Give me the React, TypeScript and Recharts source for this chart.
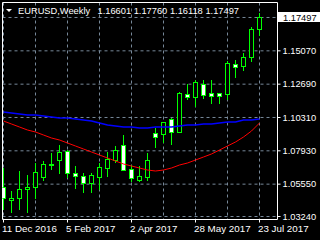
import React from 'react';
import {
  ComposedChart,
  Bar,
  Line,
  XAxis,
  YAxis,
  CartesianGrid,
  ReferenceLine,
  ReferenceArea,
} from 'recharts';

// ── MT4 "green on black" palette ──────────────────────────────────────────
const C = {
  bg: '#000000',
  bar: '#00FF00',
  bull: '#000000',
  bear: '#FFFFFF',
  grid: '#778899',
  frame: '#FFFFFF',
  text: '#FFFFFF',
  fast: '#FF0000',
  slow: '#0000FF',
};
const FONT = '"Liberation Sans", Arial, sans-serif';

// ── Weekly EURUSD, 11 Dec 2016 .. 23 Jul 2017 (one entry per week) ────────
const opens = [
  1.05346, 1.04418, 1.04561, 1.05204, 1.05346, 1.0606, 1.06953, 1.07274, 1.07917, 1.06346, 1.06132,
  1.05632, 1.0606, 1.06703, 1.07274, 1.08345, 1.06632, 1.05846, 1.0606, 1.09202, 1.09131, 1.10202,
  1.09273, 1.11987, 1.11772, 1.12701, 1.12058, 1.12058, 1.11987, 1.14129, 1.13986, 1.14628, 1.16601,
];
const highs = [
  1.06703, 1.05061, 1.06489, 1.06203, 1.0706, 1.07203, 1.07774, 1.08345, 1.07988, 1.06846, 1.06346,
  1.06346, 1.0706, 1.07845, 1.08274, 1.09059, 1.06917, 1.06846, 1.07774, 1.09559, 1.09987, 1.10273,
  1.12129, 1.12701, 1.12986, 1.12986, 1.12986, 1.12058, 1.14343, 1.14414, 1.14914, 1.1677, 1.1776,
];
const lows = [
  1.03704, 1.0349, 1.03704, 1.0349, 1.0449, 1.05775, 1.0656, 1.06275, 1.05989, 1.05204, 1.04918,
  1.04918, 1.05132, 1.0606, 1.0706, 1.0656, 1.05703, 1.05703, 1.05775, 1.08131, 1.08488, 1.08345,
  1.09273, 1.11558, 1.11058, 1.1163, 1.11273, 1.11273, 1.11558, 1.13129, 1.13629, 1.14271, 1.16118,
];
const closes = [
  1.04561, 1.04561, 1.05204, 1.05346, 1.06417, 1.06989, 1.07024, 1.07845, 1.06346, 1.06132, 1.05632,
  1.06203, 1.06774, 1.07346, 1.07988, 1.0656, 1.05989, 1.06132, 1.07274, 1.08916, 1.09987, 1.09273,
  1.12058, 1.11772, 1.12843, 1.11915, 1.11844, 1.11844, 1.142, 1.13914, 1.14628, 1.16628, 1.17497,
];

// moving averages drawn on the chart
const maFast = [
  1.10059, 1.09845, 1.0963, 1.09416, 1.09273, 1.09059, 1.08845, 1.08702, 1.08488, 1.08274, 1.0806,
  1.07845, 1.07631, 1.07417, 1.07203, 1.06989, 1.06846, 1.06703, 1.0656, 1.06489, 1.0656, 1.06703,
  1.06917, 1.0706, 1.07274, 1.07488, 1.07703, 1.07988, 1.08274, 1.08559, 1.08916, 1.09345, 1.09916,
];
const maSlow = [
  1.10701, 1.1063, 1.10559, 1.10487, 1.10487, 1.10416, 1.10344, 1.10273, 1.10273, 1.10202, 1.1013,
  1.10059, 1.09916, 1.09773, 1.09702, 1.0963, 1.0963, 1.09559, 1.09559, 1.0963, 1.0963, 1.0963,
  1.09702, 1.09773, 1.09773, 1.09845, 1.09845, 1.09916, 1.09987, 1.09987, 1.1013, 1.1013, 1.10202,
];

// ── Axis ticks ────────────────────────────────────────────────────────────
const gridWeeks = [0, 4, 8, 12, 16, 20, 24, 28, 32];
const dateLabels: Record<number, string> = {
  0: '11 Dec 2016',
  8: '5 Feb 2017',
  16: '2 Apr 2017',
  24: '28 May 2017',
  32: '23 Jul 2017',
};
const priceTicks = [1.0324, 1.0555, 1.0793, 1.1031, 1.1269, 1.1507, 1.1745];
const hiddenPriceTick = 1.1745; // covered by the last-price tag

const X_DOMAIN: [number, number] = [-0.125, 34.25];
const Y_DOMAIN: [number, number] = [1.030258, 1.185211];

const data = opens.map((o, i) => ({
  i,
  range: [lows[i], highs[i]],
  open: o,
  close: closes[i],
  fast: maFast[i],
  slow: maSlow[i],
}));

// ── Candle drawn inside the [low, high] bar the library positions ─────────
function Candle(props: any) {
  const { x, y, width, height, payload } = props;
  if (!payload || height == null) return null;
  const [lo, hi] = payload.range;
  const py = (p: number) => y + ((hi - p) / (hi - lo)) * height;
  const cx = Math.floor(x + width / 2) + 0.5;
  const top = Math.round(py(Math.max(payload.open, payload.close))) + 0.5;
  const bot = Math.round(py(Math.min(payload.open, payload.close))) + 0.5;
  const bear = payload.close < payload.open;
  return (
    <g>
      <line x1={cx} x2={cx} y1={Math.round(y)} y2={Math.round(y + height)} stroke={C.bar} strokeWidth={1} />
      <rect
        x={cx - 2}
        y={top}
        width={4}
        height={Math.max(bot - top, 1)}
        fill={bear ? C.bear : C.bull}
        stroke={C.bar}
        strokeWidth={1}
      />
    </g>
  );
}

function DateTick(props: any) {
  const { x, y, payload } = props;
  const label = dateLabels[payload.value];
  if (!label) return null;
  const tx = Math.floor(x) + 0.5;
  return (
    <g>
      <line x1={tx} x2={tx} y1={y} y2={y + 3} stroke={C.frame} />
      <text x={tx - 1.5} y={y + 12.5} fill={C.text} fontSize={9.8} fontFamily={FONT} textAnchor="start">
        {label}
      </text>
    </g>
  );
}

function PriceTick(props: any) {
  const { x, y, payload } = props;
  if (payload.value === hiddenPriceTick) return null;
  return (
    <text x={x} y={y + 3.3} fill={C.text} fontSize={9.3} fontFamily={FONT} textAnchor="start">
      {payload.value.toFixed(5)}
    </text>
  );
}

function PriceTag(props: any) {
  const vb = props.viewBox;
  if (!vb) return null;
  const left = vb.x + vb.width + 0.5;
  return (
    <g>
      <rect x={left} y={Math.round(vb.y) - 5} width={43} height={10} fill="#FFFFFF" />
      <text x={left + 5} y={Math.round(vb.y) + 3.5} fill="#000000" fontSize={9.3} fontFamily={FONT}>
        {closes[closes.length - 1].toFixed(5)}
      </text>
    </g>
  );
}

export default function App() {
  const last = closes.length - 1;
  return (
    <div style={{ position: 'absolute', left: 0, top: 0, width: 320, height: 240, background: C.bg }}>
      <ComposedChart
        width={320}
        height={240}
        data={data}
        margin={{ top: 2.5, right: 0, bottom: 0, left: 2.5 }}
      >
        <CartesianGrid
          stroke={C.grid}
          strokeDasharray="3 3"
          verticalValues={gridWeeks}
          horizontalValues={priceTicks}
        />
        <XAxis
          dataKey="i"
          type="number"
          domain={X_DOMAIN}
          ticks={gridWeeks}
          allowDataOverflow
          height={20.5}
          axisLine={false}
          tickLine={false}
          tickSize={0}
          tickMargin={0}
          interval={0}
          tick={<DateTick />}
        />
        <YAxis
          orientation="right"
          type="number"
          domain={Y_DOMAIN}
          ticks={priceTicks}
          allowDataOverflow
          width={42.5}
          axisLine={false}
          tickLine={{ stroke: C.frame }}
          tickSize={3}
          tickMargin={2}
          interval={0}
          tick={<PriceTick />}
        />
        <ReferenceArea
          x1={X_DOMAIN[0]}
          x2={X_DOMAIN[1]}
          y1={Y_DOMAIN[0]}
          y2={Y_DOMAIN[1]}
          fill="none"
          fillOpacity={0}
          stroke={C.frame}
          strokeWidth={1}
        />
        <Line
          dataKey="slow"
          type="linear"
          stroke={C.slow}
          strokeWidth={1.6}
          dot={false}
          isAnimationActive={false}
        />
        <Line
          dataKey="fast"
          type="linear"
          stroke={C.fast}
          strokeWidth={1}
          dot={false}
          isAnimationActive={false}
        />
        <Bar dataKey="range" barSize={5} shape={(p: any) => <Candle {...p} />} isAnimationActive={false} />
        <ReferenceLine y={closes[last]} stroke="none" label={<PriceTag />} />
      </ComposedChart>
      <svg
        width={320}
        height={20}
        style={{ position: 'absolute', left: 0, top: 0, pointerEvents: 'none' }}
      >
        <polygon points="6,9 12,9 9,12" fill={C.text} />
        <text x={18} y={13.5} fill={C.text} fontSize={9.3} fontFamily={FONT}>
          EURUSD,Weekly
        </text>
        <text x={97.5} y={13.5} fill={C.text} fontSize={9.3} fontFamily={FONT} xmlSpace="preserve">
          {`${opens[last].toFixed(5)} ${highs[last].toFixed(5)} ${lows[last].toFixed(5)} ${closes[last].toFixed(5)}`}
        </text>
      </svg>
    </div>
  );
}
